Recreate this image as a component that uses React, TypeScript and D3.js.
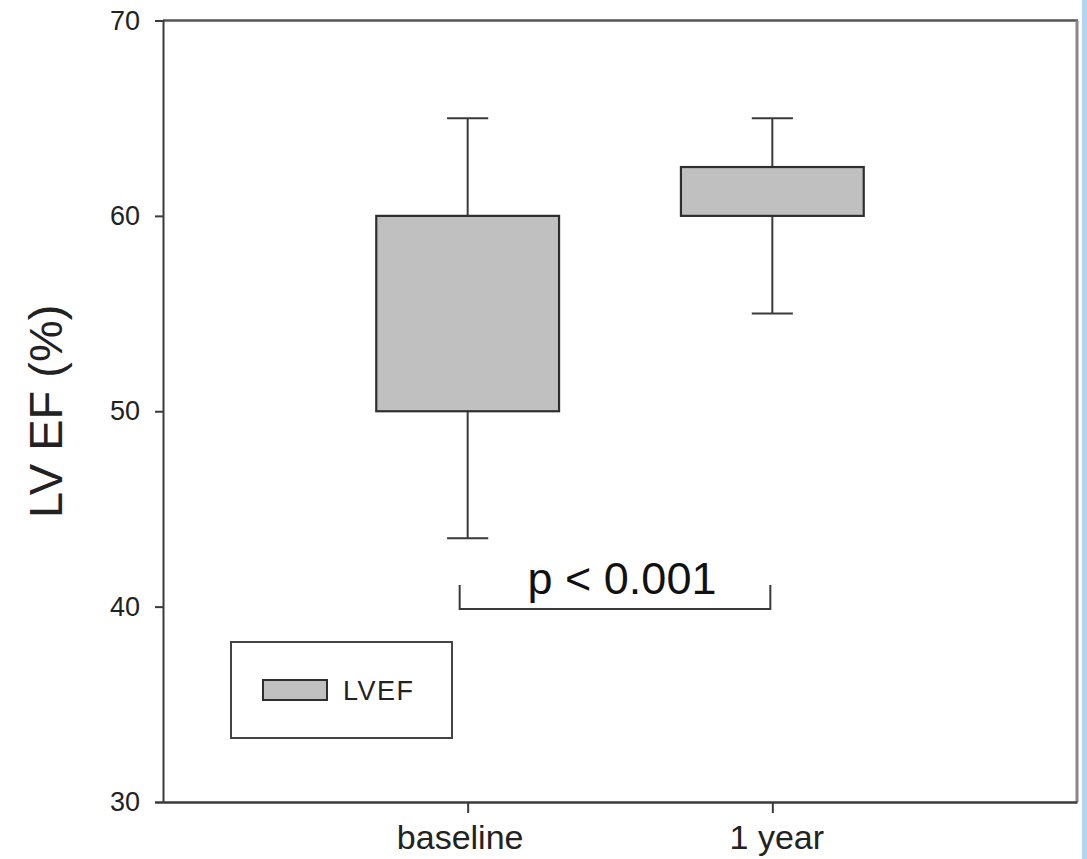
import * as d3 from 'd3';
import React, { useEffect, useRef } from 'react';

// box plot stats
const groups = ['baseline', '1 year'];
const q1 = [50, 60];
const q3 = [60, 62.5];
const whiskLow = [43.5, 55];
const whiskHigh = [65, 65];
const yTicks = [30, 40, 50, 60, 70];

const W = 1087;
const H = 859;

function App() {
    const ref = useRef<SVGSVGElement>(null);

    useEffect(() => {
        const svg = d3.select(ref.current);
        svg.selectAll('*').remove();

        const left = 163, right = 1077, top = 20.5, bottom = 802;
        const font = 'Liberation Sans, Arial, sans-serif';
        const ink = '#3a3a3a';

        const x = d3.scalePoint<string>()
            .domain(groups)
            .range([left, right])
            .padding(1);
        const y = d3.scaleLinear()
            .domain([30, 70])
            .range([bottom, top]);

        const boxW = x.step() * 0.6;
        const capW = x.step() * 0.135;

        // light blue strip at the right edge
        svg.append('rect')
            .attr('x', 1082).attr('y', 0)
            .attr('width', W - 1082).attr('height', H)
            .attr('fill', '#b3d4ee');

        // frame top and right
        svg.append('line')
            .attr('x1', left).attr('x2', right + 1)
            .attr('y1', top).attr('y2', top)
            .attr('stroke', '#555').attr('stroke-width', 2.5);
        svg.append('line')
            .attr('x1', right).attr('x2', right)
            .attr('y1', top).attr('y2', bottom)
            .attr('stroke', '#888').attr('stroke-width', 3);

        // y axis
        const gy = svg.append('g')
            .attr('transform', `translate(${left},0)`)
            .call(d3.axisLeft(y).tickValues(yTicks).tickSize(8).tickPadding(15));
        gy.select('.domain').attr('stroke', ink).attr('stroke-width', 2);
        gy.selectAll('.tick line').attr('stroke', ink).attr('stroke-width', 2);
        gy.selectAll('.tick text')
            .attr('font-family', font).attr('font-size', 27).attr('fill', '#222');

        // x axis
        const gx = svg.append('g')
            .attr('transform', `translate(0,${bottom})`)
            .call(d3.axisBottom(x).tickSize(11).tickPadding(12).tickSizeOuter(0));
        gx.select('.domain').attr('stroke', ink).attr('stroke-width', 2.5);
        gx.selectAll('.tick line').attr('stroke', ink).attr('stroke-width', 2);
        gx.selectAll('.tick text')
            .attr('font-family', font).attr('font-size', 34).attr('fill', '#222')
            .attr('dx', (_d, i) => (i === 0 ? -8 : 4));

        // y title
        svg.append('text')
            .attr('transform', `translate(62,${(top + bottom) / 2}) rotate(-90)`)
            .attr('text-anchor', 'middle')
            .attr('font-family', font).attr('font-size', 47).attr('fill', '#222')
            .text('LV EF (%)');

        // whiskers and boxes
        const boxes = svg.append('g');
        groups.forEach((g, i) => {
            const cx = x(g) as number;
            boxes.append('line')
                .attr('x1', cx).attr('x2', cx)
                .attr('y1', y(whiskHigh[i])).attr('y2', y(whiskLow[i]))
                .attr('stroke', ink).attr('stroke-width', 2);
            [whiskHigh[i], whiskLow[i]].forEach(v => {
                boxes.append('line')
                    .attr('x1', cx - capW / 2).attr('x2', cx + capW / 2)
                    .attr('y1', y(v)).attr('y2', y(v))
                    .attr('stroke', ink).attr('stroke-width', 2);
            });
            boxes.append('rect')
                .attr('x', cx - boxW / 2).attr('width', boxW)
                .attr('y', y(q3[i])).attr('height', y(q1[i]) - y(q3[i]))
                .attr('fill', '#c0c0c0')
                .attr('stroke', '#2e2e2e').attr('stroke-width', 2.2);
        });

        // significance bracket
        const bx0 = (x(groups[0]) as number) - 8;
        const bx1 = (x(groups[1]) as number) - 2;
        const bTop = 585, bBot = 609;
        svg.append('path')
            .attr('d', `M${bx0},${bTop}V${bBot}H${bx1}V${bTop}`)
            .attr('fill', 'none').attr('stroke', ink).attr('stroke-width', 2);
        svg.append('text')
            .attr('x', (bx0 + bx1) / 2 + 7).attr('y', 594)
            .attr('text-anchor', 'middle')
            .attr('font-family', font).attr('font-size', 45).attr('fill', '#111')
            .text('p < 0.001');

        // legend
        svg.append('rect')
            .attr('x', 231).attr('y', 642).attr('width', 221).attr('height', 96)
            .attr('fill', '#fff').attr('stroke', '#444').attr('stroke-width', 2);
        svg.append('rect')
            .attr('x', 263).attr('y', 680).attr('width', 64).attr('height', 20)
            .attr('fill', '#c0c0c0').attr('stroke', '#2e2e2e').attr('stroke-width', 2);
        svg.append('text')
            .attr('x', 343).attr('y', 700)
            .attr('font-family', font).attr('font-size', 27).attr('fill', '#222')
            .attr('letter-spacing', 1.5)
            .text('LVEF');
    }, []);

    return (
        <svg ref={ref} width={W} height={H}
            style={{ position: 'absolute', left: 0, top: 0, background: '#fff' }} />
    );
}

export default App;
